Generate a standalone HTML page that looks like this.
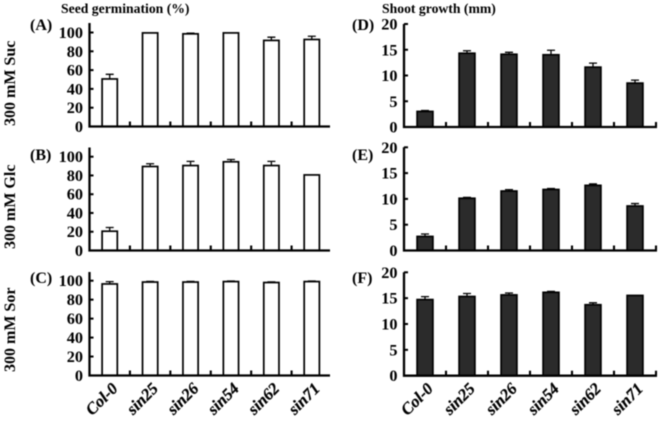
<!DOCTYPE html>
<html>
<head>
<meta charset="utf-8">
<style>
html,body{margin:0;padding:0;background:#fff;}
#fig{display:block;width:661px;height:421px;filter:blur(0.45px);}
text{font-family:"Liberation Serif",serif;font-weight:bold;fill:#000;}
</style>
</head>
<body>
<svg id="fig" xmlns="http://www.w3.org/2000/svg" width="661" height="421" viewBox="0 0 661 421">
  <text x="61" y="13" font-size="13.7">Seed germination (%)</text>
  <text x="382" y="13" font-size="13.7">Shoot growth (mm)</text>
  <text transform="translate(15,126) rotate(-90)" font-size="16">300 mM Suc</text>
  <text transform="translate(15,249) rotate(-90)" font-size="16">300 mM Glc</text>
  <text transform="translate(15,372) rotate(-90)" font-size="16">300 mM Sor</text>
  <g id="plots"></g>
</svg>
<script>
const categories = ["Col-0", "sin25", "sin26", "sin54", "sin62", "sin71"];
const germinationTicks = [0, 20, 40, 60, 80, 100];
const growthTicks = [0, 5, 10, 15, 20];

const sucGermination = [51, 100, 99, 100, 92, 93];
const sucGerminationErr = [4.5, 0, 0.3, 0, 3, 3];
const glcGermination = [21, 90, 91, 95, 91, 81];
const glcGerminationErr = [3.5, 2.5, 4, 2, 4, 0];
const sorGermination = [97, 99, 99, 99.5, 98.5, 99.5];
const sorGerminationErr = [2, 0.2, 0.2, 0.2, 0.2, 0.2];

const sucGrowth = [3.1, 14.4, 14.2, 14.1, 11.7, 8.6];
const sucGrowthErr = [0.1, 0.4, 0.3, 0.8, 0.7, 0.5];
const glcGrowth = [2.8, 10.2, 11.6, 11.9, 12.7, 8.7];
const glcGrowthErr = [0.4, 0.1, 0.2, 0.1, 0.2, 0.4];
const sorGrowth = [14.8, 15.4, 15.7, 16.2, 13.8, 15.6];
const sorGrowthErr = [0.5, 0.5, 0.3, 0.1, 0.3, 0];

const NS = "http://www.w3.org/2000/svg";
const root = document.getElementById("plots");

function make(parent, tag, attrs, txt) {
  const el = document.createElementNS(NS, tag);
  for (const k in attrs) el.setAttribute(k, attrs[k]);
  if (txt !== undefined) el.textContent = txt;
  parent.appendChild(el);
  return el;
}

function drawPanel(o) {
  const g = make(root, "g", {});
  
  

  const maxTick = o.ticks[o.ticks.length - 1];
  const yScale = v => o.y0 + (o.yMax - o.y0) * v / maxTick;
  const catW = (o.x1 - o.x0) / o.values.length;
  const xScale = i => o.x0 + catW * (i + 0.5);

  const label = make(g, "text", { x: o.labelX, y: o.labelY, "font-size": 16 }, "(" + o.letter + ")");
  
  

  o.values.forEach((v, i) => {
    const cx = xScale(i);
    const top = yScale(v);
    const err = o.errors[i];
    if (err > 0) {
      const hi = yScale(v + err);
      const errLine = make(g, "path", {
        d: "M" + cx + " " + top + "V" + hi + "M" + (cx - 4) + " " + hi + "H" + (cx + 4),
        stroke: "#000", "stroke-width": 1.3, fill: "none"
      });
      
      
    }
    const bar = make(g, "rect", {
      x: cx - o.barW / 2, y: top + 0.4, width: o.barW, height: o.y0 - top - 0.4,
      fill: o.fill, stroke: "#000", "stroke-width": 1.7
    });
    
    
  });

  const axes = make(g, "path", {
    d: "M" + o.x0 + " " + o.yTop + "V" + o.y0 + "H" + o.axisEnd,
    stroke: "#000", "stroke-width": 2.3, fill: "none"
  });
  
  

  o.ticks.forEach(t => {
    const y = yScale(t);
    if (t !== 0) {
      const tick = make(g, "line", { x1: o.x0, x2: o.x0 + 4, y1: y, y2: y, stroke: "#000", "stroke-width": 2 });
      
      
    }
    const tl = make(g, "text", { x: o.x0 - 6.5, y: y + 5.5, "font-size": 16.3, "text-anchor": "end" }, String(t));
    
    
  });

  for (let i = 1; i <= o.values.length; i++) {
    if (i === o.values.length && !o.endTick) continue;
    const x = o.x0 + catW * i;
    const tick = make(g, "line", { x1: x, x2: x, y1: o.y0, y2: o.y0 - 5, stroke: "#000", "stroke-width": 2.1 });
    
    
  }

  if (o.showCats) {
    categories.forEach((c, i) => {
      const px = xScale(i) + o.catDx;
      const py = o.y0 + 14;
      const cl = make(g, "text", {
        transform: "translate(" + px + "," + py + ") rotate(-45)",
        "font-size": 16.5, "font-style": "italic", "text-anchor": "end",
        stroke: "#000", "stroke-width": 0.25
      }, c);
      
      
    });
  }
}

const leftCol = { x0: 89.5, x1: 332, axisEnd: 330, barW: 15.2, fill: "#fff", ticks: germinationTicks, labelX: 30, endTick: false };
const rightCol = { x0: 404, x1: 656, axisEnd: 657, barW: 15.8, fill: "#2b2b2b", ticks: growthTicks, labelX: 352, endTick: true };

drawPanel(Object.assign({}, leftCol, { letter: "A", values: sucGermination, errors: sucGerminationErr, y0: 126.5, yMax: 32.5, yTop: 23, labelY: 30 }));
drawPanel(Object.assign({}, leftCol, { letter: "B", values: glcGermination, errors: glcGerminationErr, y0: 250.5, yMax: 156.7, yTop: 147.5, labelY: 160 }));
drawPanel(Object.assign({}, leftCol, { letter: "C", values: sorGermination, errors: sorGerminationErr, y0: 375.5, yMax: 280.7, yTop: 272, labelY: 283, showCats: true, catDx: 9 }));
drawPanel(Object.assign({}, rightCol, { letter: "D", values: sucGrowth, errors: sucGrowthErr, y0: 127, yMax: 24, yTop: 24, labelY: 30 }));
drawPanel(Object.assign({}, rightCol, { letter: "E", values: glcGrowth, errors: glcGrowthErr, y0: 250.5, yMax: 147.3, yTop: 147.3, labelY: 160 }));
drawPanel(Object.assign({}, rightCol, { letter: "F", values: sorGrowth, errors: sorGrowthErr, y0: 375.7, yMax: 272.3, yTop: 272.3, labelY: 283, showCats: true, catDx: 9 }));
</script>
</body>
</html>
